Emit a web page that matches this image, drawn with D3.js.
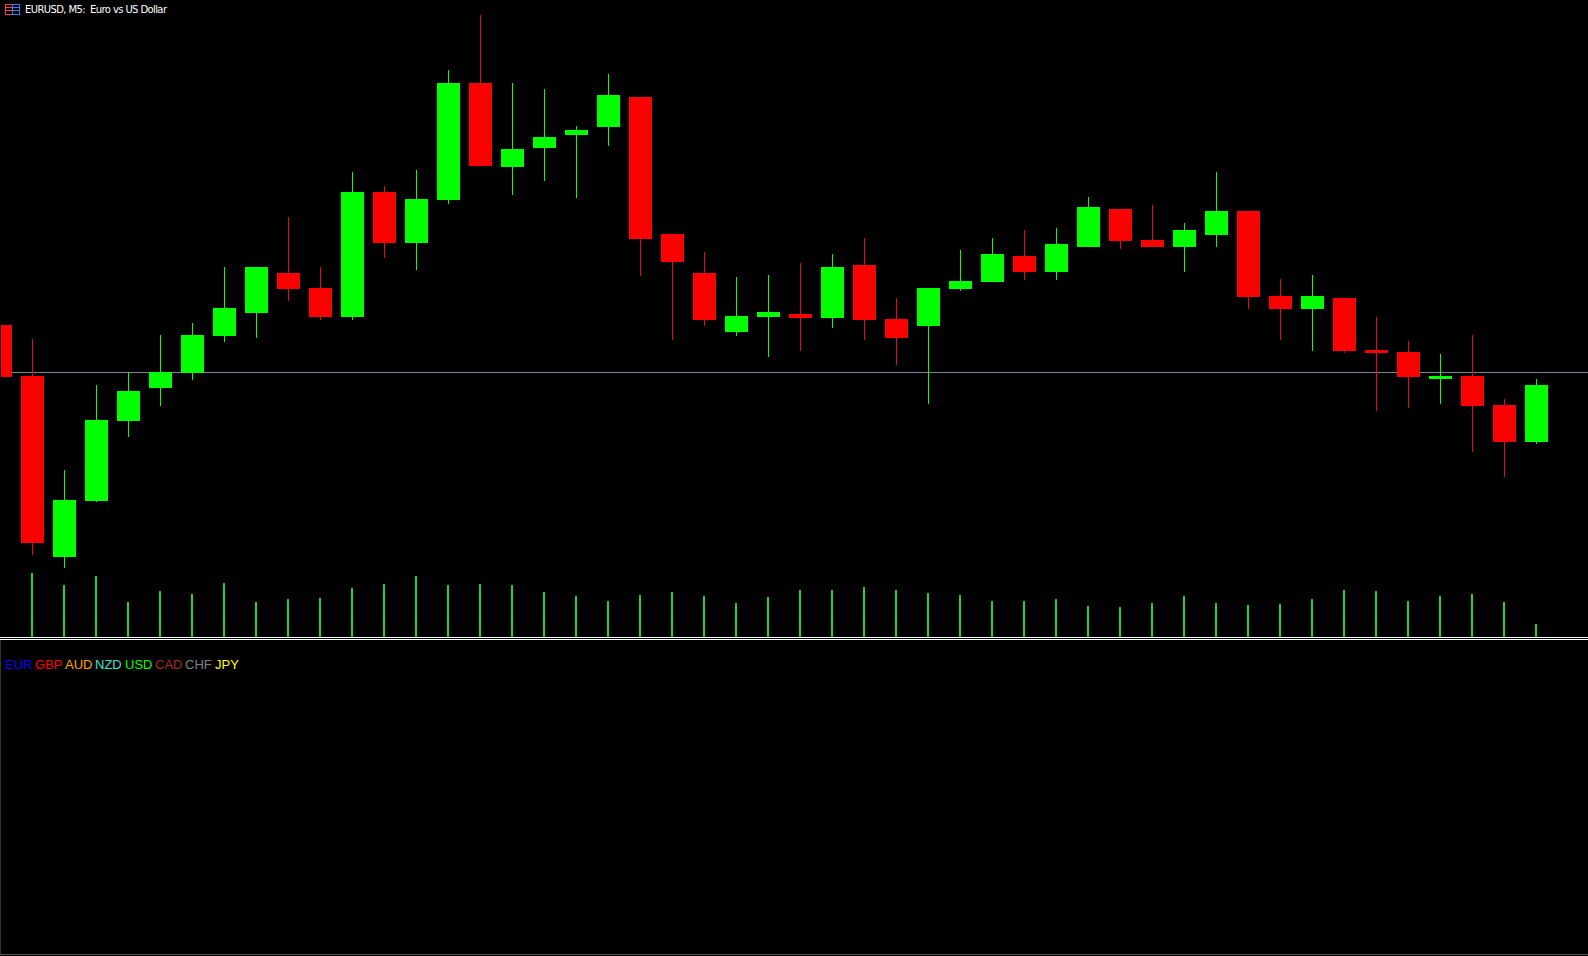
<!DOCTYPE html>
<html><head><meta charset="utf-8">
<style>html,body{margin:0;padding:0;background:#000;overflow:hidden}svg{display:block}</style>
<script src="https://cdn.jsdelivr.net/npm/d3@7"></script></head><body>
<svg id="c" width="1588" height="956"></svg>
<script>
// Prices in points (0.00001) above 1.08000
const openPts  = [75,24,-157,-101,-21,12,27,64,87,127,112,83,208,157,200,317,233,252,265,273,303,166,127,68,83,86,82,135,81,74,111,118,144,128,153,191,160,153,165,189,104,91,102,50,48,21,24,-5,-42];
const highPts  = [75,61,-70,15,28,65,77,133,133,183,133,228,214,230,330,385,317,311,274,326,303,166,148,123,125,137,146,162,102,112,150,162,170,172,203,191,195,177,228,189,121,125,102,83,59,46,65,1,21];
const lowPts   = [23,-155,-168,-102,-37,-6,20,58,62,99,80,80,142,130,196,234,205,219,202,254,124,60,74,64,43,49,72,60,35,-4,109,118,120,120,153,151,153,128,153,91,60,49,47,-11,-8,-4,-52,-77,-44];
const closePts = [23,-143,-100,-20,9,28,65,92,133,111,83,208,157,201,317,234,251,263,270,305,161,138,80,84,88,82,133,80,62,112,119,146,128,156,193,159,153,170,189,103,91,104,49,47,23,24,-6,-42,15];
// Tick volume per bar (bar 0 is off the left edge)
const volumes  = [0,64,52,61,35,46,43,54,35,38,39,49,53,61,52,53,52,45,41,36,42,45,41,34,40,47,47,50,47,44,42,36,36,38,31,30,34,41,34,32,33,38,47,46,36,41,43,35,13];
const currencies = ["EUR","GBP","AUD","NZD","USD","CAD","CHF","JPY"];
const currencyColors = ["#0000ff","#ff0000","#ffa500","#40e0d0","#00ff00","#a52a2a","#808080","#ffff00"];
const currencyX = [5,35,65,95,125,155,185,215];
const bidPts = 28;
const titleText = "EURUSD, M5:  Euro vs US Dollar";

const svg = d3.select("#c");
const bars = openPts.map((o,i)=>({i,o,h:highPts[i],l:lowPts[i],c:closePts[i],v:volumes[i]}));
const x = d3.scaleLinear().domain([0,48]).range([0.5,1536.5]);
const y = d3.scaleLinear().domain([400,-555]).range([0,955]);
const yVol = d3.scaleLinear().domain([0,100]).range([637,537]);
const UP="#00ff00", DOWN="#ff0000", WICK_DOWN="#f0002c", VOL="#32cd32";

svg.append("defs").append("clipPath").attr("id","plot").append("rect").attr("x",1).attr("y",0).attr("width",1587).attr("height",637);
const g = svg.append("g").attr("clip-path","url(#plot)").attr("shape-rendering","crispEdges");

// bid line
g.append("line").attr("x1",0).attr("x2",1588).attr("y1",y(bidPts)+.5).attr("y2",y(bidPts)+.5).attr("stroke","#778899");

// wicks
g.selectAll("line.w").data(bars).join("line").attr("class","w")
 .attr("x1",d=>x(d.i)).attr("x2",d=>x(d.i)).attr("y1",d=>y(d.h)).attr("y2",d=>y(d.l))
 .attr("stroke",d=>d.c>=d.o?UP:WICK_DOWN);
// bodies
g.selectAll("rect.b").data(bars).join("rect").attr("class","b")
 .attr("x",d=>x(d.i)-11.5).attr("width",23)
 .attr("y",d=>y(Math.max(d.o,d.c))).attr("height",d=>Math.abs(y(d.o)-y(d.c)))
 .attr("fill",d=>d.c>=d.o?UP:DOWN);
// volumes
g.selectAll("rect.v").data(bars.filter(d=>d.v>0)).join("rect").attr("class","v")
 .attr("x",d=>x(d.i)-1.5).attr("width",2).attr("y",d=>yVol(d.v)).attr("height",d=>yVol(0)-yVol(d.v))
 .attr("fill",VOL);

// panel separators
const frame = svg.append("g").attr("shape-rendering","crispEdges");
frame.append("rect").attr("x",0).attr("y",637).attr("width",1588).attr("height",1).attr("fill","#fff");
frame.append("rect").attr("x",0).attr("y",639).attr("width",1588).attr("height",1).attr("fill","#fff");
frame.append("rect").attr("x",0).attr("y",954).attr("width",1588).attr("height",1).attr("fill","#555");
frame.append("rect").attr("x",0).attr("y",640).attr("width",1).attr("height",314).attr("fill","#333");

// title icon
const icon = svg.append("g").attr("shape-rendering","crispEdges");
icon.append("rect").attr("x",5.5).attr("y",4.5).attr("width",7).attr("height",10).attr("fill","none").attr("stroke","#ff4040");
icon.append("rect").attr("x",12.5).attr("y",4.5).attr("width",7).attr("height",10).attr("fill","none").attr("stroke","#2f80ff");
[7.5,10.5].forEach(v=>{
 icon.append("line").attr("x1",6).attr("x2",12).attr("y1",v).attr("y2",v).attr("stroke","#ff4040");
 icon.append("line").attr("x1",13).attr("x2",19).attr("y1",v).attr("y2",v).attr("stroke","#2f80ff");
});
svg.append("text").attr("x",25).attr("y",13).attr("fill","#fff")
 .attr("font-family","'DejaVu Sans',sans-serif").attr("font-size",10)
 .attr("textLength",142).attr("xml:space","preserve").style("white-space","pre").text(titleText);

// currency legend
svg.selectAll("text.cur").data(currencies).join("text").attr("class","cur")
 .attr("x",(d,i)=>currencyX[i]).attr("y",669).attr("fill",(d,i)=>currencyColors[i])
 .attr("font-family","'Liberation Sans',Arial,sans-serif").attr("font-size",13).text(d=>d);
</script></body></html>
